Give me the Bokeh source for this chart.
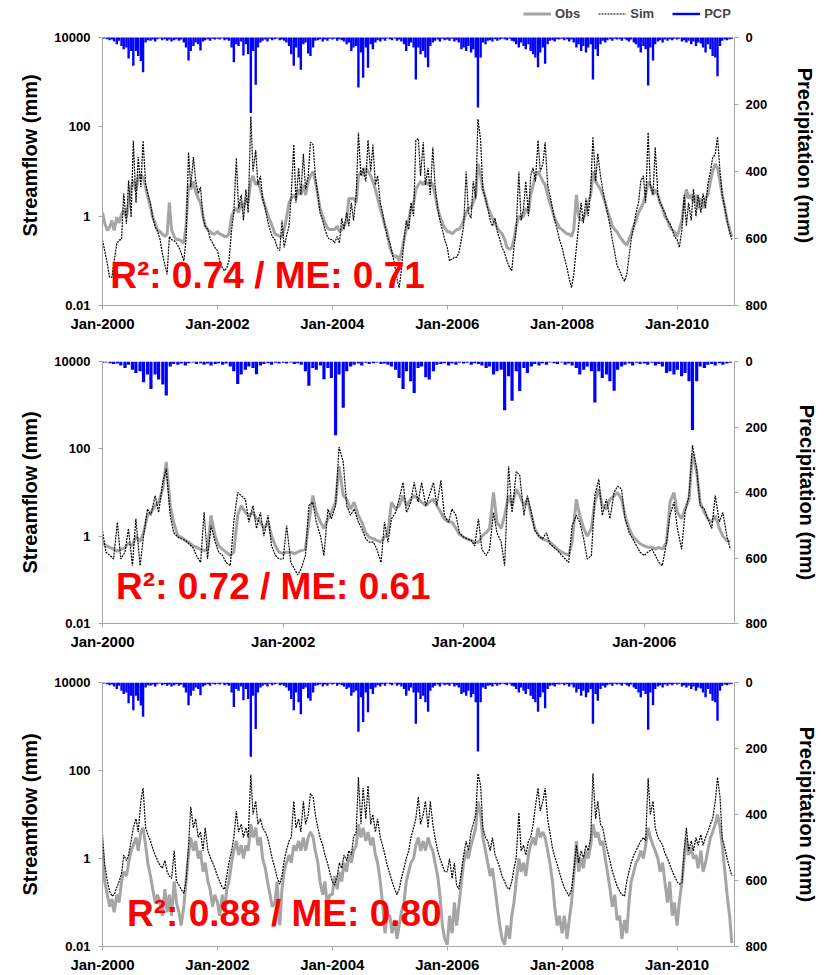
import pandas as pd
from bokeh.plotting import figure
from bokeh.layouts import column
from bokeh.models import (ColumnDataSource, Range1d, LinearAxis, LinearScale, FixedTicker,
                          DatetimeTickFormatter, CustomJSTickFormatter, Label,
                          Legend, LegendItem)
from bokeh.embed import file_html
from bokeh.resources import INLINE

FONT = "Liberation Sans"
AXIS_GRAY = "#A6A6A6"
OBS_GRAY = "#A5A5A5"

# ---------------- data (semi-monthly) ----------------
STREAM_TICKS = [0.01, 1, 100, 10000]
PCP_TICKS = [0, 200, 400, 600, 800]
TICK_YEARS_LONG = [2000, 2002, 2004, 2006, 2008, 2010]
TICK_YEARS_SHORT = [2000, 2002, 2004, 2006]
STATS = ["R\u00b2: 0.74 / ME: 0.71", "R\u00b2: 0.72 / ME: 0.61", "R\u00b2: 0.88 / ME: 0.80"]

# precipitation (mm), shared by all panels, 2000-2010
PCP = [
    4, 3, 5, 8, 6, 12, 20, 10, 25, 35, 30, 63, 40, 84, 40, 55, 70, 104, 15, 8, 10, 6, 12, 5,
    3, 8, 5, 10, 6, 12, 8, 5, 10, 6, 15, 30, 69, 40, 25, 15, 20, 39, 12, 8, 5, 10, 4, 6,
    4, 6, 3, 8, 5, 10, 30, 74, 20, 25, 12, 54, 20, 50, 225, 40, 141, 30, 15, 10, 6, 12, 4, 8,
    5, 3, 8, 6, 10, 15, 25, 50, 84, 30, 60, 96, 20, 15, 48, 55, 30, 10, 8, 5, 12, 6, 10, 4,
    6, 4, 10, 5, 8, 12, 20, 15, 40, 30, 25, 149, 45, 120, 30, 90, 20, 35, 15, 8, 12, 5, 10, 3,
    5, 8, 3, 10, 6, 12, 20, 40, 25, 15, 30, 125, 30, 50, 40, 60, 89, 25, 15, 10, 6, 12, 4, 8,
    6, 10, 4, 12, 8, 15, 35, 30, 40, 25, 45, 35, 60, 209, 60, 15, 20, 10, 8, 12, 5, 10, 6, 4,
    5, 8, 4, 10, 12, 20, 30, 15, 25, 35, 20, 40, 50, 60, 89, 45, 30, 78, 20, 10, 8, 12, 5, 6,
    4, 8, 5, 12, 6, 15, 30, 20, 40, 25, 45, 30, 20, 125, 35, 55, 20, 10, 15, 8, 5, 10, 4, 6,
    5, 10, 4, 8, 12, 6, 15, 20, 30, 45, 25, 35, 143, 30, 69, 20, 12, 8, 15, 6, 10, 5, 8, 4,
    6, 4, 12, 8, 15, 10, 20, 12, 25, 15, 18, 30, 45, 20, 35, 55, 60, 116, 25, 10, 6, 8, 5, 4,
]

# panel 1 streamflow (mm), 2000-2010
OBS_1 = [
    1.2, 0.7, 0.48, 0.56, 0.8, 0.48, 0.95, 0.7, 1.1, 1.35, 0.95, 1.9, 4.5, 6.3, 3.7, 7.4, 8.5, 7.4, 4.5, 2.7, 1.6, 0.95, 0.7, 0.48,
    0.45, 0.4, 0.35, 0.4, 2.0, 0.5, 0.35, 0.3, 0.3, 0.28, 0.25, 0.6, 5, 4, 6, 3.5, 2.5, 2, 1, 0.6, 0.5, 0.45, 0.4, 0.4,
    0.45, 0.4, 0.38, 0.35, 0.35, 0.4, 1.0, 1.3, 1.5, 1.2, 2, 1.5, 2.5, 2, 6, 8, 5, 6, 4, 2.5, 1.6, 1.1, 0.8, 0.6,
    0.4, 0.38, 0.35, 0.35, 0.5, 0.9, 2, 2.5, 3, 2.5, 4, 3, 5, 3, 6, 8, 10, 6, 3, 1.5, 1, 0.7, 0.55, 0.5,
    0.5, 0.5, 0.6, 0.45, 0.5, 0.6, 0.8, 2.5, 2.5, 2.5, 2, 8, 10, 8, 12, 10, 8, 6, 4, 2.5, 1.5, 1, 0.6, 0.45,
    0.2, 0.15, 0.12, 0.13, 0.1, 0.15, 0.3, 0.5, 0.8, 1.5, 2, 4, 5, 6, 5, 6, 5, 6, 5, 3, 1.5, 1, 0.7, 0.55,
    0.45, 0.45, 0.4, 0.45, 0.5, 0.5, 0.6, 0.8, 1.2, 1.5, 1.5, 2, 3, 15, 8, 4, 2.5, 1.6, 1.2, 0.9, 0.7, 0.55, 0.45, 0.4,
    0.3, 0.2, 0.18, 0.2, 0.3, 0.6, 1.0, 0.9, 1.0, 1.5, 1.2, 3, 5, 8, 10, 8, 6, 5, 3, 2, 1.3, 0.9, 0.7, 0.55,
    0.5, 0.45, 0.4, 0.4, 0.35, 0.5, 3, 1, 0.8, 0.9, 1.2, 2, 3, 10, 6, 5, 4, 3, 2, 1.3, 0.9, 0.6, 0.5, 0.45,
    0.35, 0.3, 0.25, 0.22, 0.3, 0.4, 0.6, 0.8, 1.2, 1.5, 2, 3, 6, 5, 3, 4, 3, 2, 1.5, 1.0, 0.8, 0.6, 0.5, 0.45,
    0.35, 0.5, 0.8, 2, 4, 2.5, 3, 2, 3, 1.5, 2.5, 1.5, 2.5, 3, 6, 10, 15, 12, 6, 3, 1.5, 0.8, 0.5, 0.35,
]
SIM_1 = [
    0.29, 0.17, 0.085, 0.043, 0.043, 0.1, 0.24, 0.29, 0.3, 3.2, 0.68, 6.3, 0.95, 49, 2, 21, 4.5, 49, 5.4, 3.2, 1.9, 0.95, 0.57, 0.48,
    0.3, 0.15, 0.08, 0.05, 0.35, 0.3, 0.28, 0.25, 0.2, 0.15, 0.1, 0.3, 27, 4.5, 21, 6.3, 3.2, 4.5, 0.95, 0.6, 0.5, 0.32, 0.25, 0.2,
    0.17, 0.1, 0.07, 0.06, 0.07, 0.1, 0.5, 1.2, 20, 1.5, 3, 0.8, 4, 1.2, 170, 10, 30, 5, 8, 2.5, 1.5, 0.8, 0.5, 0.35,
    0.3, 0.2, 0.17, 0.8, 0.2, 0.35, 0.6, 3, 40, 2, 12, 3, 25, 4, 8, 45, 40, 8, 3, 1.2, 0.8, 0.5, 0.35, 0.3,
    0.3, 0.25, 0.35, 0.25, 0.9, 0.5, 1.2, 0.6, 2, 0.8, 3, 75, 8, 12, 6, 50, 10, 40, 5, 8, 2, 1.2, 0.6, 0.35,
    0.25, 0.15, 0.08, 0.04, 0.025, 0.06, 0.3, 0.8, 0.5, 2, 1, 50, 55, 8, 45, 5, 12, 3, 35, 5, 1.5, 0.8, 0.5, 0.3,
    0.2, 0.1, 0.11, 0.12, 0.12, 0.15, 0.3, 0.6, 10, 1.2, 0.9, 6, 2.5, 150, 50, 4, 2.5, 1.5, 0.8, 0.6, 0.9, 0.45, 0.3, 0.2,
    0.15, 0.1, 0.07, 0.06, 0.2, 0.5, 10, 0.8, 1.5, 6, 1, 8, 12, 6, 50, 10, 15, 45, 5, 3, 1.5, 0.8, 0.5, 0.3,
    0.2, 0.12, 0.07, 0.04, 0.025, 0.05, 0.2, 0.6, 2, 0.7, 2.5, 1, 4, 60, 6, 25, 8, 4, 2, 1.2, 0.6, 0.3, 0.15, 0.08,
    0.06, 0.045, 0.035, 0.05, 0.12, 0.3, 0.6, 1.2, 2, 6, 8, 2, 75, 5, 3, 35, 3, 2, 1.5, 1.2, 0.8, 0.7, 0.5, 0.35,
    0.3, 0.2, 0.5, 3, 0.6, 2, 0.8, 4, 1.0, 3, 1.2, 3.2, 1.5, 5, 10, 20, 25, 60, 10, 3, 1.5, 0.8, 0.45, 0.3,
]

# panel 2 streamflow (mm), 2000-2006
OBS_2 = [
    0.73, 0.6, 0.55, 0.5, 0.45, 0.5, 0.55, 0.7, 0.6, 1.0, 0.75, 1.2, 3.0, 3.5, 5, 6, 12, 50, 5, 2.1, 1.0, 0.95, 0.8, 0.73,
    0.6, 0.56, 0.5, 0.47, 0.5, 3, 1.0, 0.6, 0.5, 0.43, 0.36, 0.43, 3, 5, 3.5, 3, 3.5, 2.5, 2.1, 1.5, 2.1, 1.0, 0.6, 0.43,
    0.4, 0.43, 0.43, 0.4, 0.43, 0.47, 0.5, 2.1, 8.5, 3.5, 2.1, 1.5, 2.5, 3.5, 6, 40, 8.5, 7, 4.2, 6, 3, 2.1, 1.2, 0.95,
    0.87, 0.8, 0.73, 0.95, 1.2, 6, 4.2, 5, 8.5, 5, 7, 8.5, 7, 6, 5, 6, 7, 5, 3.5, 2.5, 2.1, 2.1, 1.5, 1.1,
    0.95, 0.87, 0.8, 0.73, 0.73, 1.0, 1.2, 1.5, 10, 2.1, 1.5, 3, 8.5, 5, 12, 8.5, 5, 7, 3, 1.5, 1.0, 0.87, 0.8, 0.73,
    0.6, 0.5, 0.43, 0.4, 0.36, 0.73, 7, 3, 1.5, 1.0, 1.5, 6, 12, 5, 4.2, 7, 8.5, 10, 7, 3, 1.5, 1.0, 0.8, 0.67,
    0.6, 0.56, 0.56, 0.5, 0.56, 0.5, 0.73, 6, 10, 3.5, 2.5, 4.2, 7, 80, 30, 6, 3.5, 2.5, 2.1, 3, 1.5, 1.0, 0.8, 0.73,
]
SIM_2 = [
    1.3, 0.43, 0.36, 0.3, 2.1, 0.3, 0.43, 1.5, 0.21, 2.5, 0.21, 1.0, 4.2, 3, 8.5, 3.5, 17, 35, 3, 1.2, 0.95, 0.87, 0.8, 0.67,
    0.55, 0.36, 0.25, 3.5, 0.3, 1.75, 0.73, 0.43, 0.36, 0.25, 0.21, 2.1, 10, 8.5, 7, 2.1, 5, 1.5, 3.5, 1.0, 3, 0.6, 0.36, 0.3,
    0.3, 1.75, 0.25, 0.18, 0.13, 0.18, 0.36, 5, 6, 2.1, 1.0, 0.36, 4.2, 2.5, 5, 110, 50, 5, 3, 4.2, 2.1, 1.5, 0.87, 0.73,
    0.73, 0.5, 0.25, 2.1, 0.73, 2.5, 3.5, 7, 17, 3.5, 6, 17, 6, 17, 5, 8.5, 17, 5, 19, 3, 2.1, 4.2, 3, 1.2,
    0.95, 0.87, 0.8, 0.6, 2.5, 0.5, 0.36, 0.5, 3.5, 1.2, 0.73, 0.21, 40, 3.5, 30, 25, 3, 8.5, 3.5, 1.35, 1.0, 0.87, 1.2, 0.67,
    0.55, 0.47, 0.36, 0.3, 0.25, 1.75, 3, 2.1, 0.87, 0.3, 0.36, 8.5, 20, 3, 7, 2.5, 10, 14, 12, 2.5, 1.2, 0.87, 0.6, 0.43,
    0.36, 0.43, 0.5, 0.36, 0.25, 0.21, 0.73, 3, 6, 1.5, 0.5, 3.5, 8.5, 120, 35, 5, 4.2, 2.5, 1.5, 8.5, 2.1, 3.5, 1.0, 0.5,
]

# panel 3 streamflow (mm), 2000-2010
OBS_3 = [
    1.5, 0.3, 0.15, 0.08, 0.12, 0.06, 0.15, 0.1, 0.3, 0.5, 0.4, 0.8, 1.5, 2, 3, 1.5, 4, 5, 2, 0.8, 0.4, 0.2, 0.1, 0.15,
    0.1, 0.05, 0.2, 0.06, 0.15, 0.05, 0.3, 0.1, 0.06, 0.03, 0.08, 0.3, 1.2, 3, 1.5, 2.5, 1, 1.5, 0.5, 0.8, 0.3, 0.2, 0.08, 0.15,
    0.1, 0.05, 0.15, 0.06, 0.2, 0.3, 0.8, 1.5, 2.5, 1.2, 2, 1, 2, 1.5, 6, 3, 5, 2, 3, 1, 0.6, 0.3, 0.15, 0.08,
    0.1, 0.3, 0.03, 0.2, 0.5, 0.8, 1.2, 0.8, 2, 1.5, 2.5, 1.5, 3, 1.5, 3, 4, 3, 1.5, 0.8, 0.3, 0.15, 0.3, 0.08, 0.15,
    0.15, 0.4, 0.2, 0.5, 0.3, 0.8, 0.5, 1.2, 0.8, 1.5, 2, 6, 3, 5, 2.5, 4, 2, 3, 1.2, 0.8, 0.3, 0.1, 0.02, 0.05,
    0.05, 0.02, 0.04, 0.015, 0.03, 0.06, 0.1, 0.3, 0.5, 0.8, 1, 2, 3, 1.5, 2.5, 1.5, 3, 2, 1.5, 0.8, 0.4, 0.15, 0.03, 0.015,
    0.011, 0.05, 0.02, 0.1, 0.03, 0.08, 0.3, 0.8, 1.5, 1, 2, 3, 5, 20, 10, 3, 1.5, 0.8, 0.4, 0.6, 0.2, 0.08, 0.03, 0.015,
    0.011, 0.03, 0.015, 0.05, 0.1, 0.3, 1, 0.5, 0.8, 0.4, 1.2, 2, 3, 2, 5, 3, 4, 3, 1.5, 0.8, 0.3, 0.08, 0.03, 0.05,
    0.02, 0.05, 0.015, 0.04, 0.1, 0.4, 2.5, 0.5, 1, 0.6, 1.5, 1, 2, 6, 3, 4, 2, 2.5, 1, 0.5, 0.2, 0.08, 0.15, 0.04,
    0.05, 0.015, 0.04, 0.02, 0.1, 0.3, 0.5, 0.8, 1, 1.5, 1, 2, 5, 3, 2, 1.5, 1.0, 0.5, 0.8, 0.3, 0.1, 0.3, 0.05, 0.1,
    0.03, 0.1, 0.3, 1.0, 3, 1.2, 1.8, 1, 1.2, 0.6, 1.5, 0.5, 0.8, 1.5, 3, 4, 6, 10, 5, 2, 0.5, 0.15, 0.05, 0.012,
]
SIM_3 = [
    3.5, 0.73, 0.3, 0.18, 0.14, 0.15, 0.22, 0.3, 0.45, 1.2, 0.9, 1.2, 2.5, 5, 8, 4, 20, 40, 5, 3.5, 2.5, 1.7, 1.2, 0.9,
    0.7, 0.6, 0.9, 0.5, 0.4, 0.35, 1.5, 0.3, 0.25, 0.2, 0.16, 0.3, 2, 15, 5, 8, 3, 4, 1.5, 5, 1.5, 1.1, 0.8, 0.6,
    0.4, 0.3, 0.22, 0.2, 0.4, 0.8, 1.5, 3, 12, 4, 6, 3, 5, 3, 80, 10, 20, 6, 8, 5, 4, 3, 1.7, 1.0,
    0.6, 0.37, 0.26, 0.4, 0.9, 1.5, 2.5, 3, 20, 5, 8, 4, 20, 6, 10, 30, 25, 10, 5, 3, 2, 1.2, 0.8, 0.5,
    0.3, 0.25, 0.4, 0.8, 0.6, 1.2, 0.9, 1.5, 1.2, 3, 4, 70, 6, 40, 8, 45, 6, 10, 4, 8, 3, 2, 1.2, 0.7,
    0.45, 0.3, 0.2, 0.15, 0.2, 0.35, 0.6, 1.0, 1.5, 3, 5, 8, 25, 6, 10, 20, 5, 20, 6, 3, 1.5, 1.0, 0.7, 0.5,
    0.5, 1.0, 0.35, 0.8, 0.25, 0.2, 0.5, 1.2, 2.5, 1.5, 4, 6, 10, 85, 45, 5, 3, 2.5, 1.5, 3, 1.2, 0.9, 0.6, 0.4,
    0.3, 0.22, 0.2, 0.3, 0.6, 1.0, 11, 1.5, 2, 1.2, 2.5, 3, 6, 15, 40, 12, 20, 40, 8, 4, 1.7, 1.1, 0.73, 0.48,
    0.3, 0.22, 0.17, 0.14, 0.2, 0.5, 2, 0.8, 1.5, 1.0, 2, 1.5, 3, 85, 8, 20, 6, 5, 2.5, 1.5, 0.87, 0.52, 0.34, 0.24,
    0.18, 0.15, 0.14, 0.3, 0.5, 0.8, 1.2, 1.5, 2, 2.5, 3, 2.5, 67, 10, 20, 5, 3, 2.5, 2, 1.35, 1.0, 0.73, 0.52, 0.4,
    0.3, 0.26, 0.28, 1.5, 5, 1.5, 2.5, 1.5, 3, 2, 3.5, 2, 3, 4, 6, 8, 20, 70, 25, 2.9, 1.7, 1.0, 0.6, 0.4,
]

DATES = pd.date_range("2000-01-01", periods=len(PCP), freq="SMS")
FIG_W = 825
Q_MIN, Q_MAX = 0.01, 10000
P_MAX = 800


def ms(s):
    return pd.Timestamp(s).value / 1e6


def style_axis(ax, label_px, label_standoff, title_standoff):
    ax.axis_line_color = AXIS_GRAY
    ax.major_tick_line_color = AXIS_GRAY
    ax.major_tick_out = 4
    ax.major_tick_in = 0
    ax.minor_tick_line_color = None
    ax.major_label_text_font = FONT
    ax.major_label_text_font_style = "bold"
    ax.major_label_text_font_size = label_px
    ax.major_label_text_color = "black"
    ax.major_label_standoff = label_standoff
    ax.axis_label_text_font = FONT
    ax.axis_label_text_font_style = "bold"
    ax.axis_label_text_font_size = "20px"
    ax.axis_label_text_color = "black"
    ax.axis_label_standoff = title_standoff


def make_panel(obs, sim, n_years, tick_years, stat, stat_x, stat_y,
               b_left, b_right, b_top, b_bottom, data_h, right_title_standoff,
               pcp_width, extra_top=0, legend=False):
    # extra_top: blank strip (px) kept inside the frame above the data area,
    # used by panel 1 to hold the legend above the axes.
    n = 24 * n_years
    src = ColumnDataSource(dict(date=DATES[:n], obs=obs, sim=sim, pcp=PCP[:n]))
    frame_h = data_h + extra_top
    q_top = Q_MAX * 10 ** (6.0 * extra_top / data_h)
    p_top = -P_MAX * extra_top / data_h
    p = figure(width=FIG_W, height=b_top + frame_h + b_bottom,
               x_axis_type="datetime", y_axis_type="log",
               x_range=Range1d(pd.Timestamp("2000-01-01"), pd.Timestamp(f"{2000 + n_years}-01-01")),
               y_range=Range1d(Q_MIN, q_top),
               output_backend="svg", toolbar_location=None,
               min_border_left=b_left, min_border_right=b_right,
               min_border_top=b_top, min_border_bottom=b_bottom)
    p.extra_y_ranges = {"pcp": Range1d(start=P_MAX, end=p_top)}
    p.extra_y_scales = {"pcp": LinearScale()}
    p.xgrid.visible = False
    p.ygrid.visible = False
    p.outline_line_color = None

    r_obs = p.line("date", "obs", source=src, line_color=OBS_GRAY, line_width=3)
    r_sim = p.line("date", "sim", source=src, line_color="black", line_width=1.2, line_dash="2 1")
    r_pcp = p.segment(x0="date", y0=0, x1="date", y1="pcp", source=src,
                      line_color="#0000FF", line_width=pcp_width, y_range_name="pcp")

    xa = p.xaxis[0]
    xa.ticker = FixedTicker(ticks=[ms(f"{y}-01-01") for y in tick_years])
    xa.formatter = DatetimeTickFormatter(years="%b-%Y", months="%b-%Y", days="%b-%Y")
    style_axis(xa, "15px", 5, 5)

    ya = p.yaxis[0]
    ya.ticker = FixedTicker(ticks=STREAM_TICKS)
    ya.formatter = CustomJSTickFormatter(code="return String(tick);")
    ya.axis_label = "Streamflow (mm)"
    ya.bounds = (Q_MIN, Q_MAX)
    style_axis(ya, "13px", 8, 10)

    ra = LinearAxis(y_range_name="pcp", axis_label="Precipitation (mm)",
                    ticker=FixedTicker(ticks=PCP_TICKS), bounds=(0, P_MAX))
    style_axis(ra, "13px", 7, right_title_standoff)
    p.add_layout(ra, "right")

    p.add_layout(Label(x=ms(stat_x), y=stat_y, text=stat, text_font=FONT,
                       text_font_size="37px", text_font_style="bold",
                       text_color="#FF0000", text_baseline="alphabetic"))

    if legend:
        lg = Legend(items=[LegendItem(label="Obs", renderers=[r_obs]),
                           LegendItem(label="Sim", renderers=[r_sim]),
                           LegendItem(label="PCP", renderers=[r_pcp])],
                    location=(421, data_h + extra_top - 16), orientation="horizontal",
                    glyph_width=28, glyph_height=15, label_height=15,
                    label_standoff=4, spacing=18, padding=0, margin=0,
                    border_line_color=None, background_fill_alpha=0,
                    label_text_font=FONT, label_text_font_style="bold",
                    label_text_font_size="13px")
        p.add_layout(lg)
    return p


p1 = make_panel(OBS_1, SIM_1, 11, TICK_YEARS_LONG, STATS[0], "2000-02-19", 0.047,
                102, 80, 5, 35, 268, 24, 2.4, extra_top=32, legend=True)
p2 = make_panel(OBS_2, SIM_2, 7, TICK_YEARS_SHORT, STATS[1], "2000-02-25", 0.07,
                92, 91, 21, 32, 262, 26, 3.2)
p3 = make_panel(OBS_3, SIM_3, 11, TICK_YEARS_LONG, STATS[2], "2000-06-05", 0.055,
                92, 90, 27, 26, 267, 26, 2.4)

layout = column(p1, p2, p3, spacing=0)
open("out.html", "w").write(file_html(layout, INLINE, title="Streamflow"))
